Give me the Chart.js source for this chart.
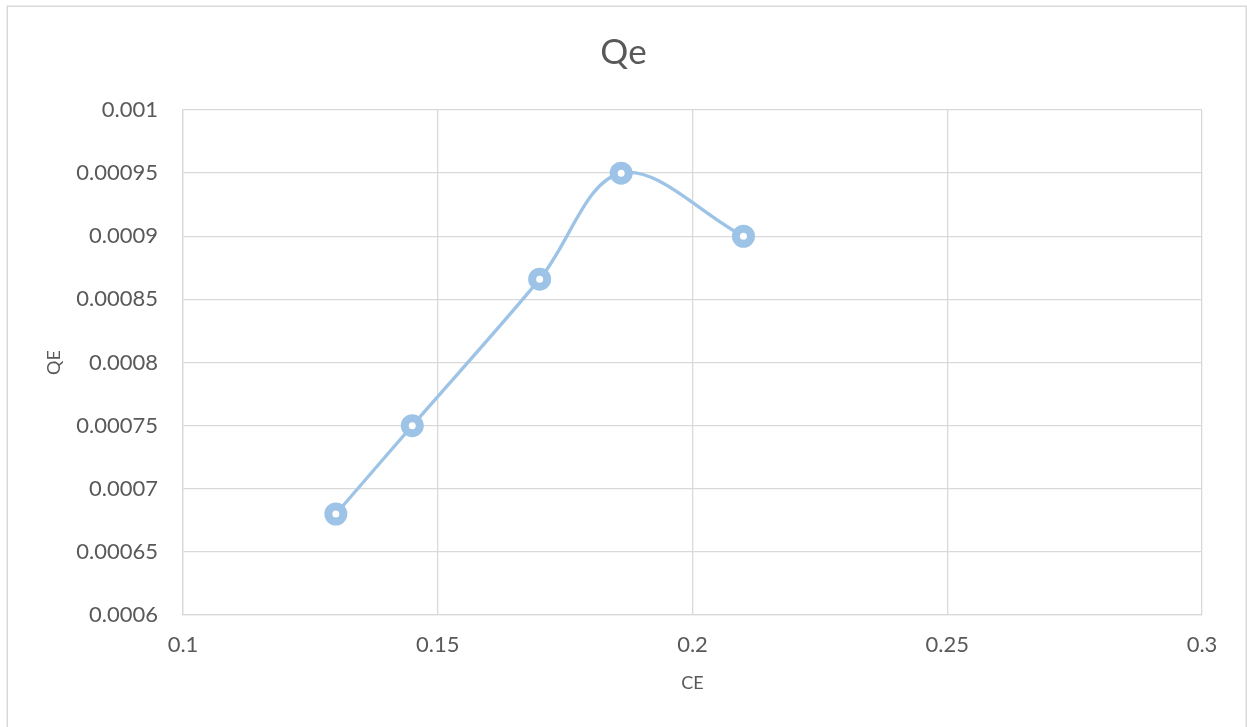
<!DOCTYPE html>
<html>
<head>
<meta charset="utf-8">
<script src="https://cdn.jsdelivr.net/npm/chart.js@4/dist/chart.umd.min.js"></script>
<style>
  html, body { margin: 0; padding: 0; background: #ffffff; }
  #wrap { width: 1247px; height: 727px; position: relative; }
</style>
</head>
<body>
<div id="wrap"><canvas id="chart"></canvas></div>
<script>
// Measured series: QE against CE
const ceValues = [0.13, 0.145, 0.17, 0.186, 0.21];
const qeValues = [0.00068, 0.00075, 0.000866, 0.00095, 0.0009];

// Axis ticks and their printed labels
const xTickValues = [0.1, 0.15, 0.2, 0.25, 0.3];
const xTickLabels = ['0.1', '0.15', '0.2', '0.25', '0.3'];
const yTickValues = [0.0006, 0.00065, 0.0007, 0.00075, 0.0008, 0.00085, 0.0009, 0.00095, 0.001];
const yTickLabels = ['0.0006', '0.00065', '0.0007', '0.00075', '0.0008', '0.00085', '0.0009', '0.00095', '0.001'];

const chartTitle = 'Qe';
const xTitle = 'CE';
const yTitle = 'QE';

const FONT = 'Lato, "Open Sans", "Liberation Sans", sans-serif';
const TEXT = '#595959';
const GRID = '#d9d9d9';
const LINE = 'rgba(157, 195, 230, 1)';

// Light frame around the whole chart
const framePlugin = {
  id: 'frame',
  beforeDraw(chart) {
    const ctx = chart.ctx;
    ctx.save();
    ctx.fillStyle = '#ffffff';
    ctx.fillRect(0, 0, chart.width, chart.height);
    ctx.strokeStyle = GRID;
    ctx.lineWidth = 1.5;
    ctx.strokeRect(7.25, 6.25, 1239, 740);
    ctx.restore();
  }
};

new Chart(document.getElementById('chart'), {
  type: 'line',
  data: {
    datasets: [{
      label: yTitle,
      data: ceValues.map((x, i) => ({ x: x, y: qeValues[i] })),
      borderColor: LINE,
      borderWidth: 3.3,
      tension: 0.35,
      pointRadius: 7.5,
      pointBorderWidth: 8,
      pointBorderColor: LINE,
      pointBackgroundColor: '#ffffff',
      pointHoverRadius: 7.5,
      fill: false
    }]
  },
  options: {
    responsive: true,
    maintainAspectRatio: false,
    animation: false,
    layout: { padding: 0 },
    plugins: {
      legend: { display: false },
      tooltip: { enabled: false },
      title: {
        display: true,
        text: chartTitle,
        color: TEXT,
        font: { family: FONT, size: 35, weight: 'normal', lineHeight: 1.2 },
        padding: { top: 32, bottom: 36 }
      }
    },
    scales: {
      x: {
        type: 'linear',
        min: 0.1,
        max: 0.3,
        afterBuildTicks(scale) { scale.ticks = xTickValues.map(v => ({ value: v })); },
        afterFit(scale) { scale.height = 112; scale.paddingRight = 45; },
        grid: { color: GRID, lineWidth: 1.3, drawTicks: false },
        border: { color: GRID, width: 1.3 },
        ticks: {
          color: TEXT,
          font: { family: FONT, size: 22 },
          padding: 17,
          maxRotation: 0,
          callback: (v, i) => xTickLabels[i]
        },
        title: {
          display: true,
          text: xTitle,
          color: TEXT,
          font: { family: FONT, size: 18 },
          padding: { top: 0, bottom: 33 }
        }
      },
      y: {
        type: 'linear',
        min: 0.0006,
        max: 0.001,
        afterBuildTicks(scale) { scale.ticks = yTickValues.map(v => ({ value: v })); },
        afterFit(scale) { scale.width = 183; },
        grid: { color: GRID, lineWidth: 1.3, drawTicks: false },
        border: { color: GRID, width: 1.3 },
        ticks: {
          color: TEXT,
          font: { family: FONT, size: 22 },
          padding: 25,
          callback: (v, i) => yTickLabels[i]
        },
        title: {
          display: true,
          text: yTitle,
          color: TEXT,
          font: { family: FONT, size: 18 },
          padding: { top: 43, bottom: 0 }
        }
      }
    }
  },
  plugins: [framePlugin]
});
</script>
</body>
</html>
